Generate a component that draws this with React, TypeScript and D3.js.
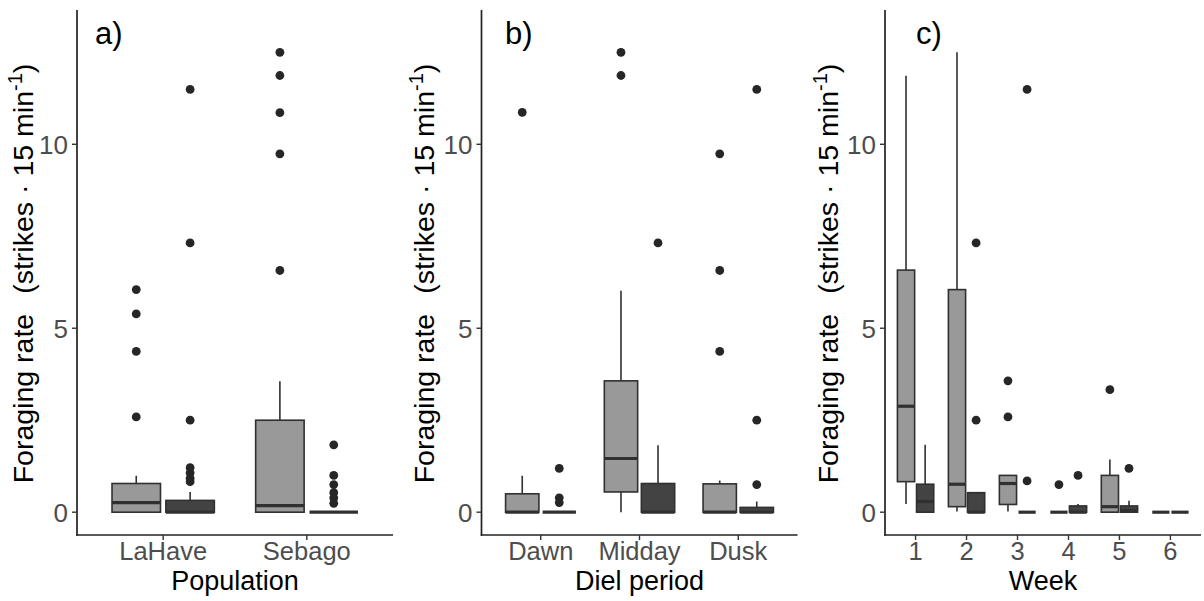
import React from "react";
import * as d3 from "d3";

// ---------- data ----------
const populations = ["LaHave", "Sebago"];
const dielPeriods = ["Dawn", "Midday", "Dusk"];
const weeks = ["1", "2", "3", "4", "5", "6"];
const yTicks = [0, 5, 10];

// box stats: [lower whisker, q1, median, q3, upper whisker]
const popLight = [
  [0, 0, 0.26, 0.78, 0.99],
  [0, 0, 0.18, 2.5, 3.56],
];
const popDark = [
  [0, 0, 0, 0.32, 0.55],
  [0, 0, 0, 0, 0],
];
const popLightOut = [
  [6.05, 5.39, 4.37, 2.59],
  [12.5, 11.87, 10.86, 9.74, 6.57],
];
const popDarkOut = [
  [11.49, 7.32, 2.5, 1.21, 1.07, 0.92, 0.83],
  [1.83, 1.0, 0.75, 0.53, 0.39, 0.24],
];

const dielLight = [
  [0, 0, 0, 0.5, 0.99],
  [0, 0.55, 1.46, 3.57, 6.02],
  [0, 0, 0, 0.77, 0.86],
];
const dielDark = [
  [0, 0, 0, 0, 0],
  [0, 0, 0, 0.78, 1.82],
  [0, 0, 0, 0.13, 0.29],
];
const dielLightOut = [[10.87], [12.5, 11.87], [9.74, 6.57, 4.37]];
const dielDarkOut = [[1.19, 0.39, 0.26], [7.32], [11.49, 2.5, 0.75]];

const weekLight = [
  [0.22, 0.83, 2.88, 6.58, 11.86],
  [0.02, 0.15, 0.76, 6.05, 12.5],
  [0.02, 0.21, 0.78, 1.0, 1.0],
  [0, 0, 0, 0, 0],
  [0, 0, 0.15, 1.0, 1.43],
  [0, 0, 0, 0, 0],
];
const weekDark = [
  [0, 0, 0.29, 0.76, 1.83],
  [0, 0, 0, 0.53, 0.53],
  [0, 0, 0, 0, 0],
  [0, 0, 0, 0.17, 0.22],
  [0, 0, 0.05, 0.17, 0.31],
  [0, 0, 0, 0, 0],
];
const weekLightOut = [[], [], [3.57, 2.59], [0.75], [3.33], []];
const weekDarkOut = [[], [7.32, 2.5], [11.49, 0.85], [1.0], [1.19], []];

// ---------- styling ----------
const FONT = "'Liberation Sans', Arial, Helvetica, sans-serif";
const LIGHT = "#999999";
const DARK = "#434343";
const LINE = "#303030";
const PT = "#262626";
const TOP = 10;
const BOTTOM = 535;

const y = d3.scaleLinear().domain([-0.62, 13.65]).range([BOTTOM, TOP]);

type PanelProps = {
  cats: string[];
  light: number[][];
  dark: number[][];
  lightOut: number[][];
  darkOut: number[][];
  x0: number;
  x1: number;
  tag: string;
  tagX: number;
  xTitle: string;
  yTitleX: number;
};

function Box({ cx, w, s, fill }: { cx: number; w: number; s: number[]; fill: string }) {
  const [lo, q1, med, q3, hi] = s;
  return (
    <g>
      <line x1={cx} x2={cx} y1={y(q3)} y2={y(hi)} stroke={LINE} strokeWidth={1.6} />
      <line x1={cx} x2={cx} y1={y(q1)} y2={y(lo)} stroke={LINE} strokeWidth={1.6} />
      <rect
        x={cx - w / 2}
        y={y(q3)}
        width={w}
        height={Math.max(0, y(q1) - y(q3))}
        fill={fill}
        stroke={LINE}
        strokeWidth={1.6}
      />
      <line x1={cx - w / 2} x2={cx + w / 2} y1={y(med)} y2={y(med)} stroke={LINE} strokeWidth={3.2} />
    </g>
  );
}

function Panel(p: PanelProps) {
  const n = p.cats.length;
  const x = d3.scaleLinear().domain([0.4, n + 0.6]).range([p.x0, p.x1]);
  const unit = x(1) - x(0);
  const w = 0.3375 * unit;
  const off = 0.1875 * unit;
  const midX = (p.x0 + p.x1) / 2;
  return (
    <g>
      {p.cats.map((c, i) => {
        const cx = x(i + 1);
        return (
          <g key={c}>
            <Box cx={cx - off} w={w} s={p.light[i]} fill={LIGHT} />
            <Box cx={cx + off} w={w} s={p.dark[i]} fill={DARK} />
            {p.lightOut[i].map((v, j) => (
              <circle key={"l" + j} cx={cx - off} cy={y(v)} r={4.4} fill={PT} />
            ))}
            {p.darkOut[i].map((v, j) => (
              <circle key={"d" + j} cx={cx + off} cy={y(v)} r={4.4} fill={PT} />
            ))}
          </g>
        );
      })}
      {/* axes */}
      <line x1={p.x0} x2={p.x0} y1={TOP} y2={BOTTOM + 0.8} stroke="#222" strokeWidth={1.7} />
      <line x1={p.x0 - 0.8} x2={p.x1} y1={BOTTOM} y2={BOTTOM} stroke="#222" strokeWidth={1.7} />
      {yTicks.map((t) => (
        <g key={t}>
          <line x1={p.x0 - 5} x2={p.x0} y1={y(t)} y2={y(t)} stroke="#333" strokeWidth={1.4} />
          <text
            x={p.x0 - 9}
            y={y(t)}
            dy="0.36em"
            textAnchor="end"
            fontSize={26}
            fill="#4d4d4d"
            fontFamily={FONT}
          >
            {t}
          </text>
        </g>
      ))}
      {p.cats.map((c, i) => (
        <g key={"t" + c}>
          <line x1={x(i + 1)} x2={x(i + 1)} y1={BOTTOM} y2={BOTTOM + 5} stroke="#333" strokeWidth={1.4} />
          <text
            x={x(i + 1)}
            y={559.5}
            textAnchor="middle"
            fontSize={25.5}
            fill="#4d4d4d"
            fontFamily={FONT}
          >
            {c}
          </text>
        </g>
      ))}
      <text x={midX} y={590} textAnchor="middle" fontSize={27} fill="#000" fontFamily={FONT}>
        {p.xTitle}
      </text>
      <text
        transform={`translate(${p.yTitleX},${(TOP + BOTTOM) / 2 + 1}) rotate(-90)`}
        textAnchor="middle"
        fontSize={28.5}
        fill="#000"
        fontFamily={FONT}
      >
        {"Foraging rate"}
        <tspan dx={20}>{"(strikes"}</tspan>
        <tspan dx={8}>{"\u00b7"}</tspan>
        <tspan dx={8}>{"15 min"}</tspan>
        <tspan dy={-11} fontSize={20}>
          {"-1"}
        </tspan>
        <tspan dy={11}>{")"}</tspan>
      </text>
      <text x={p.tagX} y={44} fontSize={31} fill="#000" fontFamily={FONT}>
        {p.tag}
      </text>
    </g>
  );
}

export default function App() {
  return (
    <svg
      width={1204}
      height={601}
      style={{ position: "absolute", left: 0, top: 0, background: "#fff" }}
    >
      <rect x={0} y={0} width={1204} height={601} fill="#fff" />
      <Panel
        cats={populations}
        light={popLight}
        dark={popDark}
        lightOut={popLightOut}
        darkOut={popDarkOut}
        x0={77}
        x1={393}
        tag="a)"
        tagX={95}
        xTitle="Population"
        yTitleX={33}
      />
      <Panel
        cats={dielPeriods}
        light={dielLight}
        dark={dielDark}
        lightOut={dielLightOut}
        darkOut={dielDarkOut}
        x0={481.5}
        x1={797.5}
        tag="b)"
        tagX={505}
        xTitle="Diel period"
        yTitleX={434}
      />
      <Panel
        cats={weeks}
        light={weekLight}
        dark={weekDark}
        lightOut={weekLightOut}
        darkOut={weekDarkOut}
        x0={885}
        x1={1201}
        tag="c)"
        tagX={916}
        xTitle="Week"
        yTitleX={838}
      />
    </svg>
  );
}
